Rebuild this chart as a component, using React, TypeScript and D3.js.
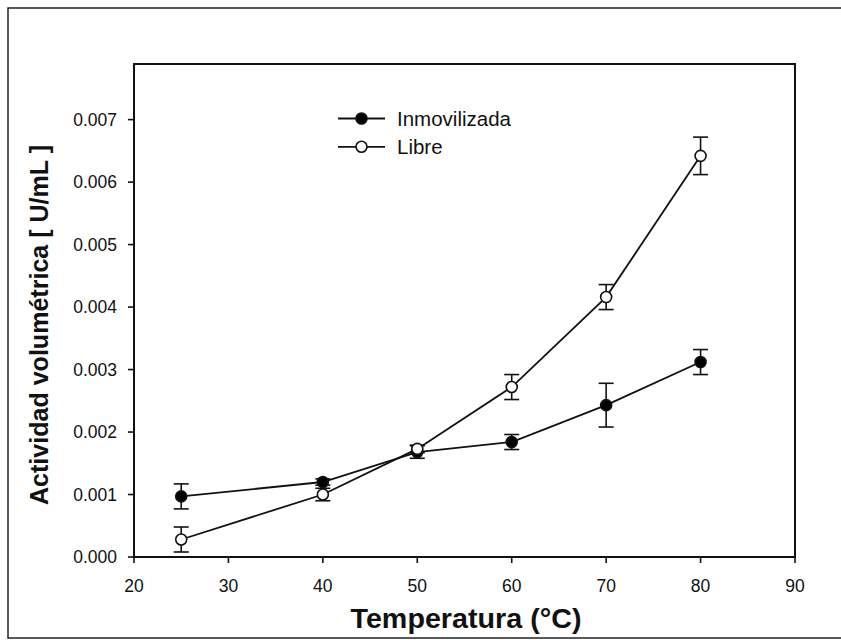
import React from "react";
import * as d3 from "d3";

const temps = [25, 40, 50, 60, 70, 80];
const inmovilizada = [0.00097, 0.0012, 0.00168, 0.00184, 0.00243, 0.00312];
const inmovilizadaErr = [0.0002, 0.00005, 0.0001, 0.00012, 0.00035, 0.0002];
const libre = [0.00028, 0.001, 0.00173, 0.00272, 0.00416, 0.00642];
const libreErr = [0.0002, 0.0001, 0.00006, 0.0002, 0.0002, 0.0003];
const xTicks = [20, 30, 40, 50, 60, 70, 80, 90];
const yTicks = [0, 0.001, 0.002, 0.003, 0.004, 0.005, 0.006, 0.007];
const seriesNames = ["Inmovilizada", "Libre"];

const W = 841;
const H = 640;
const left = 134, right = 795, top = 64, bottom = 557;
const FONT = "'Liberation Sans', Arial, Helvetica, sans-serif";

export default function App() {
  const x = d3.scaleLinear().domain([20, 90]).range([left, right]);
  const y = d3.scaleLinear().domain([0, 0.00789]).range([bottom, top]);
  const line = d3
    .line<[number, number]>()
    .x((d) => x(d[0]))
    .y((d) => y(d[1]));

  const series = [
    { name: seriesNames[0], vals: inmovilizada, err: inmovilizadaErr, fill: "#000" },
    { name: seriesNames[1], vals: libre, err: libreErr, fill: "#fff" },
  ];
  const stroke = "#111";
  const cap = 7.5;
  const r = 5.5;

  return (
    <svg
      width={W}
      height={H}
      style={{ position: "absolute", left: 0, top: 0, background: "#fff" }}
      fontFamily={FONT}
    >
      {/* outer frame */}
      <rect x={8} y={8} width={W + 10} height={630} fill="none" stroke="#222" strokeWidth={1.5} />

      {/* plot frame */}
      <rect x={left} y={top} width={right - left} height={bottom - top} fill="none" stroke={stroke} strokeWidth={2} />

      {/* y ticks */}
      {yTicks.map((t) => (
        <g key={"y" + t}>
          <line x1={left - 6} x2={left} y1={y(t)} y2={y(t)} stroke={stroke} strokeWidth={1.6} />
          <text x={117} y={y(t)} dy="0.36em" textAnchor="end" fontSize={17.5} fill="#111">
            {d3.format(".3f")(t)}
          </text>
        </g>
      ))}
      {/* x ticks */}
      {xTicks.map((t) => (
        <g key={"x" + t}>
          <line x1={x(t)} x2={x(t)} y1={bottom} y2={bottom + 6} stroke={stroke} strokeWidth={1.6} />
          <text x={x(t)} y={592} textAnchor="middle" fontSize={17.5} fill="#111">
            {t}
          </text>
        </g>
      ))}

      {/* axis titles */}
      <text
        x={466}
        y={628}
        textAnchor="middle"
        fontSize={28}
        fontWeight="bold"
        fill="#111"
        textLength={231}
        lengthAdjust="spacingAndGlyphs"
      >
        Temperatura (°C)
      </text>
      <text
        transform={`translate(48,${325}) rotate(-90)`}
        textAnchor="middle"
        fontSize={26}
        fontWeight="bold"
        fill="#111"
        textLength={360}
        lengthAdjust="spacingAndGlyphs"
      >
        Actividad volumétrica [ U/mL ]
      </text>

      {/* series */}
      {series.map((s) => {
        const pts: [number, number][] = temps.map((t, i) => [t, s.vals[i]]);
        return (
          <g key={s.name}>
            <path d={line(pts) || ""} fill="none" stroke={stroke} strokeWidth={1.8} />
            {temps.map((t, i) => {
              const cx = x(t);
              const y1 = y(s.vals[i] + s.err[i]);
              const y2 = y(s.vals[i] - s.err[i]);
              return (
                <g key={t}>
                  <line x1={cx} x2={cx} y1={y1} y2={y2} stroke={stroke} strokeWidth={1.6} />
                  <line x1={cx - cap} x2={cx + cap} y1={y1} y2={y1} stroke={stroke} strokeWidth={1.6} />
                  <line x1={cx - cap} x2={cx + cap} y1={y2} y2={y2} stroke={stroke} strokeWidth={1.6} />
                </g>
              );
            })}
            {temps.map((t, i) => (
              <circle
                key={"c" + t}
                cx={x(t)}
                cy={y(s.vals[i])}
                r={r}
                fill={s.fill}
                stroke={stroke}
                strokeWidth={1.6}
              />
            ))}
          </g>
        );
      })}

      {/* legend */}
      {series.map((s, i) => {
        const ly = 118.5 + i * 28.3;
        return (
          <g key={"lg" + s.name}>
            <line x1={338} x2={385} y1={ly} y2={ly} stroke={stroke} strokeWidth={1.8} />
            <circle cx={361.5} cy={ly} r={r} fill={s.fill} stroke={stroke} strokeWidth={1.6} />
            <text x={397} y={ly} dy="0.36em" fontSize={20.5} fill="#111">
              {s.name}
            </text>
          </g>
        );
      })}
    </svg>
  );
}
